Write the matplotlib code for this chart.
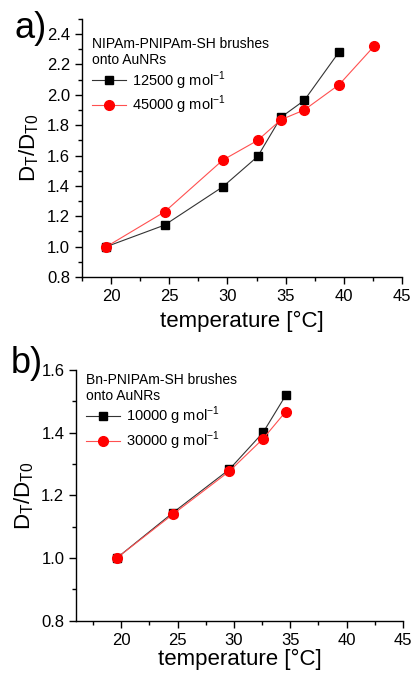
import matplotlib
matplotlib.use('Agg')
import matplotlib.pyplot as plt
from matplotlib.ticker import MultipleLocator

plt.rcParams['font.family'] = ['Liberation Sans', 'DejaVu Sans']
plt.rcParams['mathtext.fontset'] = 'custom'
plt.rcParams['mathtext.rm'] = 'Liberation Sans'

# panel a data
temp_a1 = [19.6, 24.6, 29.6, 32.6, 34.6, 36.6, 39.6]
ratio_a1 = [1.0, 1.142, 1.394, 1.594, 1.852, 1.963, 2.283]
temp_a2 = [19.6, 24.6, 29.6, 32.6, 34.6, 36.6, 39.6, 42.6]
ratio_a2 = [1.0, 1.229, 1.570, 1.700, 1.836, 1.900, 2.067, 2.320]
title_a = 'NIPAm-PNIPAm-SH brushes\nonto AuNRs'
labels_a = ['12500 g mol$^{\\mathregular{-1}}$', '45000 g mol$^{\\mathregular{-1}}$']

# panel b data
temp_b = [19.6, 24.6, 29.6, 32.6, 34.6]
ratio_b1 = [1.0, 1.145, 1.283, 1.401, 1.519]
ratio_b2 = [1.0, 1.140, 1.277, 1.381, 1.467]
title_b = 'Bn-PNIPAm-SH brushes\nonto AuNRs'
labels_b = ['10000 g mol$^{\\mathregular{-1}}$', '30000 g mol$^{\\mathregular{-1}}$']

ylab = 'D$_{\\mathregular{T}}$/D$_{\\mathregular{T0}}$'

fig = plt.figure(figsize=(4.14, 6.74), dpi=100)
ax1 = fig.add_axes([0.198, 0.589, 0.773, 0.383])
ax2 = fig.add_axes([0.184, 0.079, 0.789, 0.372])


def style(ax, xlim, ylim, xpad):
    ax.set_xlim(*xlim)
    ax.set_ylim(*ylim)
    for s in ['top', 'right']:
        ax.spines[s].set_visible(False)
    for s in ['left', 'bottom']:
        ax.spines[s].set_linewidth(1.0)
    ax.xaxis.set_major_locator(MultipleLocator(5))
    ax.xaxis.set_minor_locator(MultipleLocator(2.5))
    ax.yaxis.set_major_locator(MultipleLocator(0.2))
    ax.yaxis.set_minor_locator(MultipleLocator(0.1))
    ax.tick_params(which='major', direction='out', length=5, width=1, labelsize=12)
    ax.tick_params(which='minor', direction='out', length=3, width=1)
    ax.set_xlabel('temperature [°C]', fontsize=16, labelpad=xpad)
    ax.set_ylabel(ylab, fontsize=16, labelpad=4)


def draw(ax, x1, y1, x2, y2, title, labels, top):
    ax.plot(x1, y1, color='#333333', lw=0.8, marker='s', ms=6,
            mfc='black', mec='black', label=labels[0], zorder=3)
    ax.plot(x2, y2, color='#ff5050', lw=0.8, marker='o', ms=7,
            mfc='red', mec='red', label=labels[1], zorder=4)
    leg = ax.legend(title=title, loc='upper left', frameon=False, fontsize=10.5,
                    title_fontsize=10, handlelength=2.3, handletextpad=0.4,
                    labelspacing=0.15, borderaxespad=0.3,
                    bbox_to_anchor=(0.0, top))
    leg._legend_box.align = 'left'


draw(ax1, temp_a1, ratio_a1, temp_a2, ratio_a2, title_a, labels_a, 0.97)
style(ax1, (17.5, 45), (0.8, 2.5), 5)
ax1.set_yticks([0.8, 1.0, 1.2, 1.4, 1.6, 1.8, 2.0, 2.2, 2.4])

draw(ax2, temp_b, ratio_b1, temp_b, ratio_b2, title_b, labels_b, 1.03)
style(ax2, (16, 45), (0.8, 1.6), 1)

fig.text(0.035, 0.958, 'a)', fontsize=26, va='center', ha='left')
fig.text(0.025, 0.46, 'b)', fontsize=26, va='center', ha='left')

fig.savefig('out.png', dpi=100)
